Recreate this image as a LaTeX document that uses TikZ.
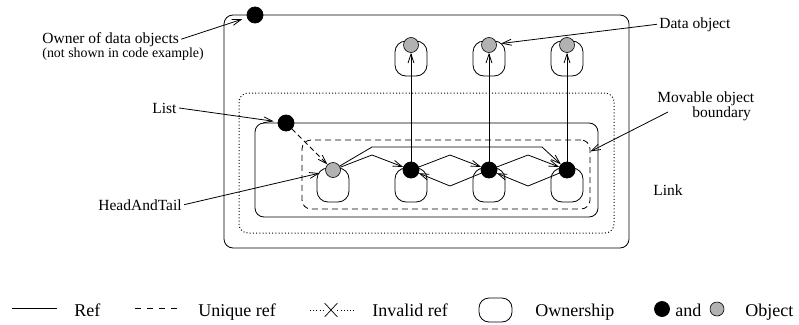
\documentclass[tikz,border=0pt]{standalone}
\usepackage{fontspec}
\setmainfont{Liberation Serif}
\usetikzlibrary{arrows.meta,calc,shapes.misc}
\begin{document}
\begin{tikzpicture}[x=1pt,y=-1pt,line width=0.8pt,
  blackobj/.style={circle,fill=black,draw=black,inner sep=0pt,minimum size=16pt},
  grayobj/.style={circle,fill=black!30,draw=black,line width=0.6pt,inner sep=0pt,minimum size=15pt},
  ownbox/.style={draw,rounded corners=11pt,minimum width=32pt,minimum height=34pt,inner sep=0pt},
  regionbox/.style={draw,rounded corners=9pt,inner sep=0pt},
  dotline/.style={line width=1pt,dash pattern=on 1pt off 2.2pt},
  refline/.style={draw,-{Straight Barb[length=9pt,width=6pt]}},
  uniqline/.style={refline,dash pattern=on 5pt off 3.5pt},
  lbl/.style={font=\fontsize{15.5}{18}\selectfont,inner sep=2pt},
  smalllbl/.style={font=\fontsize{13.9}{16}\selectfont,inner sep=2pt},
  leglbl/.style={font=\fontsize{18}{21}\selectfont,inner sep=0pt}]
\useasboundingbox (0,0) rectangle (799,324);

% nested regions
\node[regionbox,minimum width=405pt,minimum height=233pt] (outerbox) at (426.5,131.5) {};
\node[regionbox,dotline,minimum width=375pt,minimum height=140pt] (linkbox) at (426.5,163) {};
\node[regionbox,minimum width=343pt,minimum height=94pt] (listbox) at (426.5,170) {};
\node[regionbox,dash pattern=on 6pt off 4pt,minimum width=288pt,minimum height=69pt] (dashbox) at (446,174.5) {};

% ownership of the data objects
\node[ownbox,minimum height=35pt] (od1) at (411,58.5) {};
\node[ownbox,minimum height=35pt] (od2) at (489,58.5) {};
\node[ownbox,minimum height=35pt] (od3) at (567,58.5) {};
% ownership of the list cells
\node[ownbox] (oht) at (333,185) {};
\node[ownbox] (ol1) at (411,185) {};
\node[ownbox] (ol2) at (489,185) {};
\node[ownbox] (ol3) at (567,185) {};

% objects
\node[blackobj] (owner) at (255,15) {};
\node[blackobj] (list) at (286,123) {};
\node[grayobj] (ht) at (333,170) {};
\node[blackobj] (l1) at (411,170) {};
\node[blackobj] (l2) at (489,170) {};
\node[blackobj] (l3) at (567,170) {};
\node[grayobj] (d1) at (411,45) {};
\node[grayobj] (d2) at (489,45) {};
\node[grayobj] (d3) at (567,45) {};

% references
\draw[refline] (l1) -- (d1);
\draw[refline] (l2) -- (d2);
\draw[refline] (l3) -- (d3);
\draw[uniqline] (list) -- (ht);
\draw[refline] (ht) -- ++(39,-15) -- (l1);
\draw[refline] (ht) -- ++(39,-23) -- ++(170,0) -- (l3);
\draw[refline] (l1) -- ++(39,-15) -- (l2);
\draw[refline] (l2) -- ++(39,-15) -- (l3);
\draw[refline] (l2) -- ++(-39,16) -- (l1);
\draw[refline] (l3) -- ++(-39,16) -- (l2);

% annotations
\node[lbl,anchor=base west] (owntxt) at (40,43) {Owner of data objects};
\node[smalllbl,anchor=base west] (owntxtb) at (40,57) {(not shown in code example)};
\draw[refline,shorten >=5pt] (owntxt.east) -- (owner);
\node[lbl,anchor=base west] (listtxt) at (150,113) {List};
\draw[refline,shorten >=4pt] (listtxt.east) -- (list);
\node[lbl,anchor=base west] (httxt) at (96,210) {HeadAndTail};
\draw[refline,shorten >=6pt] (httxt.east) -- (ht);
\node[lbl,anchor=base west] (datatxt) at (657,28) {Data object};
\draw[refline,shorten >=4.5pt] (datatxt.west) -- (d2);
\node[lbl,anchor=base west] (movtxt) at (655,102) {Movable object};
\node[lbl,anchor=base west] (boundtxt) at (690,117) {boundary};
\coordinate (movfoot) at (668,112);
\draw[refline] (movfoot) -- ($(dashbox.north east)!0.17!(dashbox.south east)$);
\node[lbl,anchor=base west] (linktxt) at (651,195) {Link};

% legend
\coordinate (refa) at (12,308);
\coordinate (refb) at (57,308);
\draw (refa) -- (refb);
\node[leglbl,anchor=base west] (reftxt) at (74,316) {Ref};
\coordinate (uniqa) at (135,308);
\coordinate (uniqb) at (177,308);
\draw[dash pattern=on 6pt off 6pt] (uniqa) -- (uniqb);
\node[leglbl,anchor=base west] (uniqtxt) at (198,316) {Unique ref};
\node[cross out,draw,line width=0.7pt,minimum width=12pt,minimum height=13pt,inner sep=0pt] (xmark) at (331,310) {};
\coordinate (inva) at (310,310);
\coordinate (invb) at (355,310);
\draw[dotline] (inva) -- (xmark.west);
\draw[dotline] (xmark.east) -- (invb);
\node[leglbl,anchor=base west] (invtxt) at (372,316) {Invalid ref};
\node[ownbox,rounded corners=10pt,minimum width=33pt,minimum height=24pt] (legown) at (495.5,310) {};
\node[leglbl,anchor=base west] (owntxtleg) at (535,316) {Ownership};
\node[blackobj,minimum size=15pt] (legblack) at (662,309) {};
\node[leglbl,anchor=base west] (andtxt) at (675,316) {and};
\node[grayobj,minimum size=14pt] (leggray) at (717,309) {};
\node[leglbl,anchor=base west] (objtxt) at (745,316) {Object};
\end{tikzpicture}
\end{document}
